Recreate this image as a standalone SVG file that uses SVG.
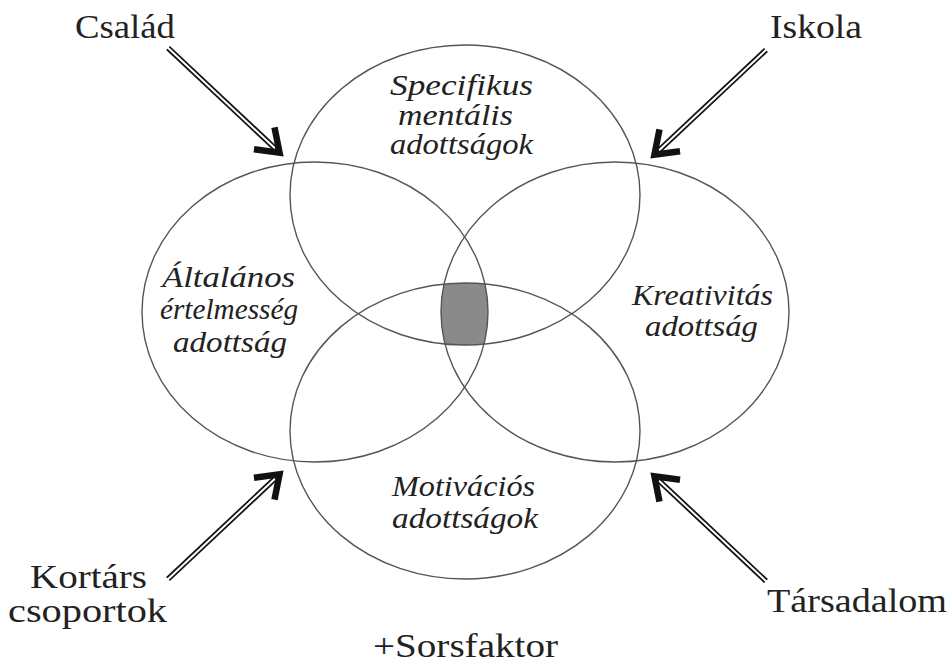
<svg xmlns="http://www.w3.org/2000/svg" xmlns:xlink="http://www.w3.org/1999/xlink" width="952" height="663" viewBox="0 0 952 663">
<style>
.ring{fill:none;stroke:#555;stroke-width:1.4}
.it{font-family:"Liberation Serif","Times New Roman",serif;font-style:italic;font-size:29px;fill:#222}
.lb{font-family:"Liberation Serif","Times New Roman",serif;font-size:34px;fill:#222}
.sh1{stroke:#111;stroke-width:5.5;fill:none}
.sh2{stroke:#fff;stroke-width:2;fill:none}
.hd{stroke:#111;stroke-width:6.5;fill:none;stroke-linejoin:miter;stroke-linecap:butt}
</style>
<defs>
<clipPath id="cTop"><ellipse cx="465" cy="195" rx="175" ry="150"/></clipPath>
<clipPath id="cLeft"><ellipse cx="315" cy="312" rx="173" ry="150"/></clipPath>
<clipPath id="cRight"><ellipse cx="615" cy="312" rx="174" ry="150"/></clipPath>
<g id="arrow">
<line class="sh1" x1="-155" y1="0" x2="-4" y2="0"/>
<line class="sh2" x1="-157" y1="0" x2="-8" y2="0"/>
<path class="hd" d="M-23,-15 L-2,0 L-23,15"/>
</g>
</defs>
<rect width="952" height="663" fill="#fff"/>
<g id="core" clip-path="url(#cTop)"><g clip-path="url(#cLeft)"><g clip-path="url(#cRight)"><ellipse cx="465" cy="431" rx="175" ry="148" fill="#8a8a8a"/></g></g></g>
<g id="node-specifikus">
<ellipse class="ring" cx="465" cy="195" rx="175" ry="150"/>
<text class="it" x="390" y="95" textLength="143" lengthAdjust="spacingAndGlyphs">Specifikus</text>
<text class="it" x="398" y="125" textLength="115" lengthAdjust="spacingAndGlyphs">mentális</text>
<text class="it" x="390" y="154" textLength="143" lengthAdjust="spacingAndGlyphs">adottságok</text>
</g>
<g id="node-altalanos">
<ellipse class="ring" cx="315" cy="312" rx="173" ry="150"/>
<text class="it" x="162" y="287" textLength="133" lengthAdjust="spacingAndGlyphs">Általános</text>
<text class="it" x="160" y="319" textLength="138" lengthAdjust="spacingAndGlyphs">értelmesség</text>
<text class="it" x="173" y="352" textLength="114" lengthAdjust="spacingAndGlyphs">adottság</text>
</g>
<g id="node-kreativitas">
<ellipse class="ring" cx="615" cy="312" rx="174" ry="150"/>
<text class="it" x="632" y="305" textLength="141" lengthAdjust="spacingAndGlyphs">Kreativitás</text>
<text class="it" x="645" y="336" textLength="113" lengthAdjust="spacingAndGlyphs">adottság</text>
</g>
<g id="node-motivacios">
<ellipse class="ring" cx="465" cy="431" rx="175" ry="148"/>
<text class="it" x="392" y="496" textLength="143" lengthAdjust="spacingAndGlyphs">Motivációs</text>
<text class="it" x="392" y="528" textLength="146" lengthAdjust="spacingAndGlyphs">adottságok</text>
</g>
<g id="node-csalad"><text class="lb" x="75" y="38" textLength="100" lengthAdjust="spacingAndGlyphs">Család</text></g>
<g id="node-iskola"><text class="lb" x="770" y="38" textLength="92" lengthAdjust="spacingAndGlyphs">Iskola</text></g>
<g id="node-kortars">
<text class="lb" x="30" y="588" textLength="117" lengthAdjust="spacingAndGlyphs">Kortárs</text>
<text class="lb" x="8" y="622" textLength="159" lengthAdjust="spacingAndGlyphs">csoportok</text>
</g>
<g id="node-tarsadalom"><text class="lb" x="767" y="612" textLength="180" lengthAdjust="spacingAndGlyphs">Társadalom</text></g>
<g id="node-sorsfaktor"><text class="lb" x="373" y="657" textLength="185" lengthAdjust="spacingAndGlyphs">+Sorsfaktor</text></g>
<g id="connectors">
<use xlink:href="#arrow" transform="translate(281,154) rotate(43.2)"/>
<use xlink:href="#arrow" transform="translate(653,156) rotate(136.8)"/>
<use xlink:href="#arrow" transform="translate(281,473) rotate(-43.2)"/>
<use xlink:href="#arrow" transform="translate(653,475) rotate(-136.8)"/>
</g>
</svg>
